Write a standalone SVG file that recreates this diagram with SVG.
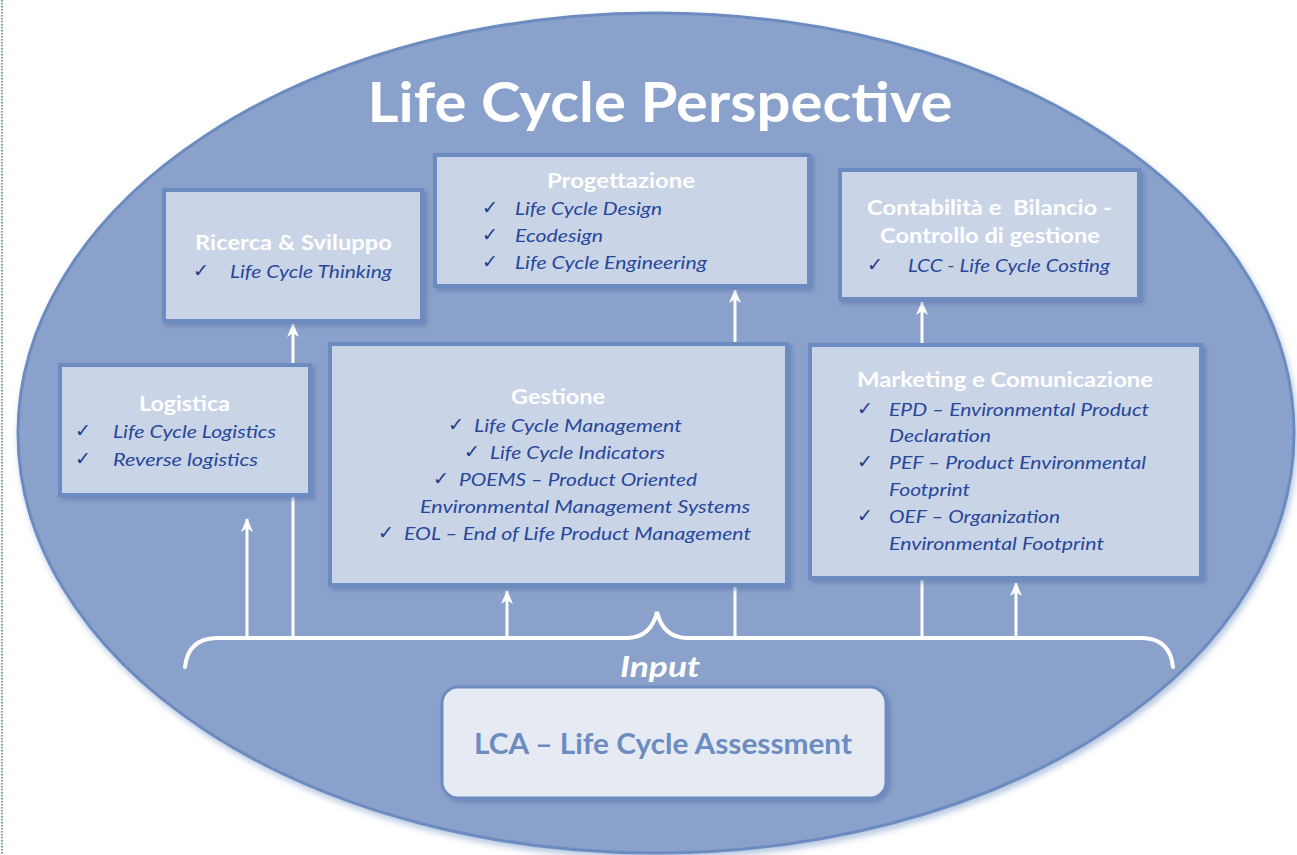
<svg xmlns="http://www.w3.org/2000/svg" width="1297" height="855" viewBox="0 0 1297 855">
<defs>
<style>
.box{fill:#c9d4e7;stroke:#6c8cc1;stroke-width:4}
.lca{fill:#e6eaf3;stroke:#6c8cc1;stroke-width:3}
.hd{font-family:Lato,"Liberation Sans",sans-serif;font-weight:bold;fill:#ffffff;font-size:20px}
.it{font-family:Lato,"Liberation Sans",sans-serif;font-style:italic;fill:#27479a;font-size:18px}
.ck{font-family:"DejaVu Sans",sans-serif;fill:#1f3c88;font-size:19px}
.con{stroke:#ffffff;stroke-width:3;fill:none}
</style>
<filter id="sh" x="-10%" y="-10%" width="125%" height="130%">
<feDropShadow dx="3" dy="3" stdDeviation="2" flood-color="#5470a6" flood-opacity="0.55"/>
</filter>
<filter id="esh" x="-5%" y="-5%" width="112%" height="115%">
<feDropShadow dx="2" dy="4" stdDeviation="3" flood-color="#6c8cc1" flood-opacity="0.5"/>
</filter>
<marker id="ah" viewBox="0 0 14 12" refX="13" refY="6" markerWidth="14" markerHeight="12" markerUnits="userSpaceOnUse" orient="auto">
<path d="M14,6 L0,0 L4,6 L0,12 Z" fill="#ffffff"/>
</marker>
</defs>
<rect x="0" y="0" width="1297" height="855" fill="#ffffff"/>
<line x1="2" y1="0" x2="2" y2="855" stroke="#4a7a8a" stroke-width="1.5" stroke-dasharray="1.5,1.5"/>
<g id="background">
<ellipse cx="656" cy="433" rx="638" ry="420" fill="#8aa1cb" stroke="#6c8cc1" stroke-width="3" filter="url(#esh)"/>
<text x="660" y="122" text-anchor="middle" font-family="Lato,'Liberation Sans',sans-serif" font-weight="bold" font-size="56" fill="#ffffff" textLength="585" lengthAdjust="spacingAndGlyphs">Life Cycle Perspective</text>
</g>
<g id="connectors">
<path class="con" d="M247,638 V519" marker-end="url(#ah)"/>
<path class="con" d="M293,638 V324" marker-end="url(#ah)"/>
<path class="con" d="M507,638 V591" marker-end="url(#ah)"/>
<path class="con" d="M735,638 V290" marker-end="url(#ah)"/>
<path class="con" d="M922,638 V302" marker-end="url(#ah)"/>
<path class="con" d="M1016,638 V583" marker-end="url(#ah)"/>
<path d="M185,667 Q188,639 216,638 H628 Q651,637 657,612 Q663,637 686,638 H1143 Q1170,639 1173,667" fill="none" stroke="#ffffff" stroke-width="4" stroke-linecap="round"/>
<text x="660" y="677" text-anchor="middle" font-family="Lato,'Liberation Sans',sans-serif" font-weight="bold" font-style="italic" font-size="28" fill="#ffffff" textLength="80" lengthAdjust="spacingAndGlyphs">Input</text>
</g>
<g id="ricerca">
<rect class="box" x="164" y="190" width="258" height="131" filter="url(#sh)"/>
<text class="hd" x="195" y="250" textLength="197" lengthAdjust="spacingAndGlyphs">Ricerca &amp; Sviluppo</text>
<text class="ck" x="193" y="277">✓</text>
<text class="it" x="230" y="278" textLength="162" lengthAdjust="spacingAndGlyphs">Life Cycle Thinking</text>
</g>
<g id="progettazione">
<rect class="box" x="435" y="155" width="374" height="131" filter="url(#sh)"/>
<text class="hd" x="547" y="188" textLength="148" lengthAdjust="spacingAndGlyphs">Progettazione</text>
<text class="ck" x="482" y="214">✓</text>
<text class="it" x="515" y="215" textLength="147" lengthAdjust="spacingAndGlyphs">Life Cycle Design</text>
<text class="ck" x="482" y="241">✓</text>
<text class="it" x="515" y="242" textLength="88" lengthAdjust="spacingAndGlyphs">Ecodesign</text>
<text class="ck" x="482" y="268">✓</text>
<text class="it" x="515" y="269" textLength="192" lengthAdjust="spacingAndGlyphs">Life Cycle Engineering</text>
</g>
<g id="contabilita">
<rect class="box" x="840" y="170" width="299" height="129" filter="url(#sh)"/>
<text class="hd" x="867" y="215" textLength="245" lengthAdjust="spacingAndGlyphs" xml:space="preserve">Contabilità e  Bilancio -</text>
<text class="hd" x="880" y="243" textLength="220" lengthAdjust="spacingAndGlyphs">Controllo di gestione</text>
<text class="ck" x="867" y="271">✓</text>
<text class="it" x="908" y="272" textLength="202" lengthAdjust="spacingAndGlyphs">LCC - Life Cycle Costing</text>
</g>
<g id="logistica">
<rect class="box" x="60" y="365" width="250" height="130" filter="url(#sh)"/>
<text class="hd" x="139" y="411" textLength="91" lengthAdjust="spacingAndGlyphs">Logistica</text>
<text class="ck" x="75" y="437">✓</text>
<text class="it" x="113" y="438" textLength="163" lengthAdjust="spacingAndGlyphs">Life Cycle Logistics</text>
<text class="ck" x="75" y="465">✓</text>
<text class="it" x="113" y="466" textLength="145" lengthAdjust="spacingAndGlyphs">Reverse logistics</text>
</g>
<g id="gestione">
<rect class="box" x="330" y="344" width="457" height="241" filter="url(#sh)"/>
<text class="hd" x="511" y="404" textLength="94" lengthAdjust="spacingAndGlyphs">Gestione</text>
<text class="ck" x="448" y="431">✓</text>
<text class="it" x="474" y="432" textLength="208" lengthAdjust="spacingAndGlyphs">Life Cycle Management</text>
<text class="ck" x="464" y="458">✓</text>
<text class="it" x="490" y="459" textLength="175" lengthAdjust="spacingAndGlyphs">Life Cycle Indicators</text>
<text class="ck" x="433" y="485">✓</text>
<text class="it" x="459" y="486" textLength="238" lengthAdjust="spacingAndGlyphs">POEMS – Product Oriented</text>
<text class="it" x="420" y="513" textLength="330" lengthAdjust="spacingAndGlyphs">Environmental Management Systems</text>
<text class="ck" x="378" y="539">✓</text>
<text class="it" x="404" y="540" textLength="347" lengthAdjust="spacingAndGlyphs">EOL – End of Life Product Management</text>
</g>
<g id="marketing">
<rect class="box" x="810" y="345" width="391" height="233" filter="url(#sh)"/>
<text class="hd" x="857" y="387" textLength="296" lengthAdjust="spacingAndGlyphs">Marketing e Comunicazione</text>
<text class="ck" x="857" y="415">✓</text>
<text class="it" x="889" y="416" textLength="260" lengthAdjust="spacingAndGlyphs">EPD – Environmental Product</text>
<text class="it" x="889" y="442" textLength="102" lengthAdjust="spacingAndGlyphs">Declaration</text>
<text class="ck" x="857" y="468">✓</text>
<text class="it" x="889" y="469" textLength="257" lengthAdjust="spacingAndGlyphs">PEF – Product Environmental</text>
<text class="it" x="889" y="496" textLength="81" lengthAdjust="spacingAndGlyphs">Footprint</text>
<text class="ck" x="857" y="522">✓</text>
<text class="it" x="889" y="523" textLength="171" lengthAdjust="spacingAndGlyphs">OEF – Organization</text>
<text class="it" x="889" y="550" textLength="215" lengthAdjust="spacingAndGlyphs">Environmental Footprint</text>
</g>
<g id="lca">
<rect class="lca" x="442" y="687" width="444" height="111" rx="16" ry="16" filter="url(#sh)"/>
<text x="474" y="754" font-family="Lato,'Liberation Sans',sans-serif" font-weight="bold" font-size="28" fill="#6c8cc1" textLength="378" lengthAdjust="spacingAndGlyphs">LCA – Life Cycle Assessment</text>
</g>
</svg>
